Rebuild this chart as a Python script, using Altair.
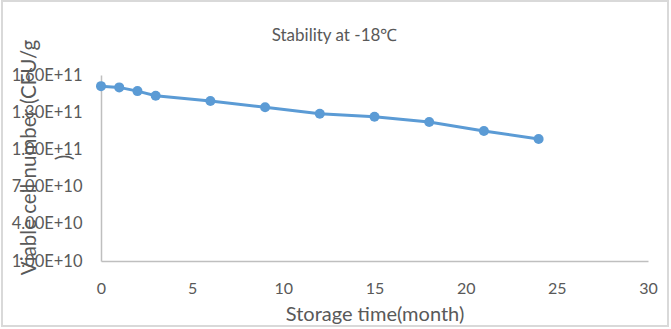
import altair as alt
import pandas as pd

months = [0, 1, 2, 3, 6, 9, 12, 15, 18, 21, 24]
viable = [1.51e11, 1.50e11, 1.47e11, 1.433e11, 1.39e11, 1.34e11, 1.288e11, 1.264e11, 1.221e11, 1.148e11, 1.084e11]
y_ticks = [1e10, 4e10, 7e10, 1e11, 1.3e11, 1.6e11]
x_ticks = [0, 5, 10, 15, 20, 25, 30]

df = pd.DataFrame({"month": months, "viable": viable})

FONT = "Lato"
GRAY = "#595959"
AXIS_LINE = "#BFBFBF"
BLUE = "#5B9BD5"

x_enc = alt.X(
    "month:Q",
    scale=alt.Scale(domain=[0, 30], nice=False, zero=False),
    axis=alt.Axis(
        values=x_ticks,
        title="Storage time(month)",
        grid=False,
        ticks=False,
        labelFlush=False,
        domainColor=AXIS_LINE,
        domainWidth=1.5,
        labelPadding=19,
        labelFont=FONT,
        labelFontSize=16,
        labelColor=GRAY,
        titleFont=FONT,
        titleFontSize=20,
        titleFontWeight="normal",
        titleColor=GRAY,
        titlePadding=8,
    ),
)
y_enc = alt.Y(
    "viable:Q",
    scale=alt.Scale(domain=[1e10, 1.6e11], nice=False, zero=False),
    axis=alt.Axis(
        values=y_ticks,
        labelExpr="upper(format(datum.value, '.2e'))",
        title=["Viable cell number (CFU/g", ")"],
        grid=False,
        ticks=False,
        domainColor=AXIS_LINE,
        domainWidth=1.5,
        labelPadding=19,
        labelFont=FONT,
        labelFontSize=16.5,
        labelColor=GRAY,
        titleFont=FONT,
        titleFontSize=20.5,
        titleFontWeight="normal",
        titleColor=GRAY,
        titleAngle=-90,
        titleAlign="center",
        titleBaseline="alphabetic",
        titleLineHeight=35,
        titleX=-66,
        titleY=82,
    ),
)

border = alt.Chart(df).mark_rect(fill=None, stroke="#D9D9D9", strokeWidth=1.5).encode(
    x=alt.value(-99), x2=alt.value(567), y=alt.value(-74), y2=alt.value(251)
)
line = alt.Chart(df).mark_line(color=BLUE, strokeWidth=3).encode(x=x_enc, y=y_enc)
pts = alt.Chart(df).mark_point(filled=True, color=BLUE, size=100, opacity=1).encode(x=x_enc, y=y_enc)

chart = (
    alt.layer(border, line, pts)
    .properties(
        width=547,
        height=186,
        title=alt.TitleParams(
            "Stability at -18℃",
            font=FONT,
            fontSize=17,
            fontWeight="normal",
            color=GRAY,
            anchor="middle",
            dx=-40,
            offset=-45,
        ),
        autosize=alt.AutoSizeParams(type="none"),
        padding={"left": 101, "top": 75, "right": 23, "bottom": 68},
        background="white",
    )
    .configure_view(stroke=None)
)

chart.save("out.html", embed_options={"renderer": "svg", "actions": False})
